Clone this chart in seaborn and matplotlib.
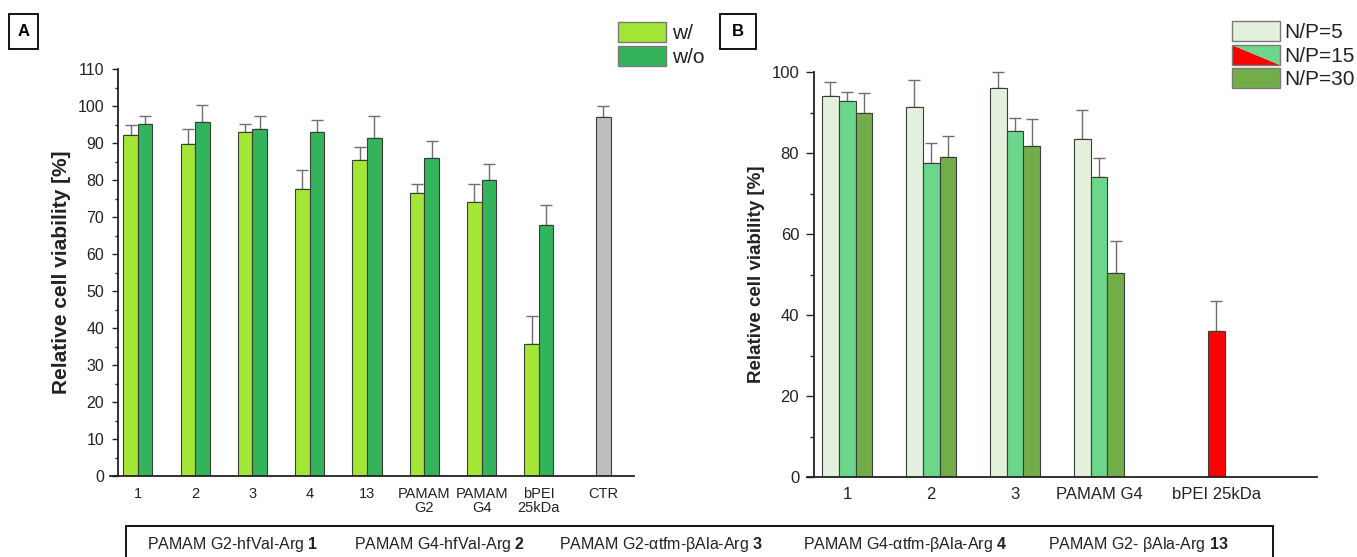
import numpy as np
import pandas as pd
import seaborn as sns
import matplotlib.pyplot as plt
from matplotlib.patches import Patch, Polygon, Rectangle
from matplotlib.legend_handler import HandlerBase

# ======================================================
# DATA
# ======================================================

# Panel A: viability with / without serum
cats_a = ["1", "2", "3", "4", "13", "PAMAM\nG2", "PAMAM\nG4", "bPEI\n25kDa"]
with_mean = [92.1, 89.7, 92.9, 77.6, 85.3, 76.5, 74.1, 35.7]
with_err = [2.8, 4.2, 2.3, 5.1, 3.6, 2.5, 4.7, 7.6]
without_mean = [95.1, 95.6, 93.8, 92.9, 91.4, 86.0, 80.1, 67.8]
without_err = [2.3, 4.8, 3.4, 3.2, 5.8, 4.5, 4.1, 5.5]
ctr_label = "CTR"
ctr_mean = 97.1
ctr_err = 2.8

# Panel B: viability at different N/P ratios
cats_b = ["1", "2", "3", "PAMAM G4", "bPEI 25kDa"]
np5_mean = [94.1, 91.4, 96.1, 83.5, np.nan]
np5_err = [3.4, 6.6, 3.9, 7.1, np.nan]
np15_mean = [92.9, 77.6, 85.4, 74.0, 36.0]
np15_err = [2.1, 4.8, 3.3, 4.7, 7.5]
np30_mean = [89.9, 79.1, 81.7, 50.3, np.nan]
np30_err = [5.0, 5.2, 6.6, 8.0, np.nan]

# Compound key under the panels
compound_names = ["PAMAM G2-hfVal-Arg", "PAMAM G4-hfVal-Arg",
                  "PAMAM G2-\u03b1tfm-\u03b2Ala-Arg", "PAMAM G4-\u03b1tfm-\u03b2Ala-Arg",
                  "PAMAM G2- \u03b2Ala-Arg"]
compound_ids = ["1", "2", "3", "4", "13"]

# ======================================================
# STYLE
# ======================================================
sns.set_theme(style="ticks")
plt.rcParams["font.family"] = ["Liberation Sans", "DejaVu Sans"]
plt.rcParams["mathtext.fontset"] = "custom"
plt.rcParams["mathtext.rm"] = "Liberation Sans"
plt.rcParams["mathtext.bf"] = "Liberation Sans:bold"

C_WITH, C_WITHOUT, C_CTR = "#A3E635", "#34B45A", "#BEBEBE"
C_NP5, C_NP15, C_NP30, C_RED = "#E3F0DC", "#6CD68A", "#72AD4A", "#FF0000"
EDGE = "#3c3c3c"
ERR = "#6e6e6e"
TXT = "#222222"

W, H = 1357, 557
fig = plt.figure(figsize=(W / 100, H / 100), dpi=100)


def px_rect(left, right, top, bottom):
    return [left / W, 1 - bottom / H, (right - left) / W, (bottom - top) / H]


def style_axis(ax, spine_x, ymax, major, minor, tick_len, ysize):
    ax.spines[["top", "right"]].set_visible(False)
    ax.spines["left"].set_position(("data", spine_x))
    for s in ("left", "bottom"):
        ax.spines[s].set_linewidth(1.3)
        ax.spines[s].set_color(TXT)
    ax.set_ylim(0, ymax)
    ax.set_yticks(np.arange(0, ymax + 0.1, major))
    ax.set_yticks(np.arange(0, ymax + 0.1, minor), minor=True)
    ax.tick_params(axis="y", which="major", length=tick_len, width=1, color=TXT,
                   labelsize=ysize, labelcolor=TXT, pad=5)
    ax.tick_params(axis="y", which="minor", length=tick_len * 0.55, width=1, color=TXT)
    ax.tick_params(axis="x", length=0, labelcolor=TXT)
    ax.set_xlabel("")


def add_errors(ax, df):
    ax.errorbar(df["pos"], df["val"], yerr=[np.zeros(len(df)), df["err"]],
                fmt="none", ecolor=ERR, elinewidth=1, capsize=4.5, capthick=1,
                zorder=1, clip_on=False)


# ======================================================
# PANEL A
# ======================================================
off_a = 0.127
rows = []
for i in range(len(cats_a)):
    rows.append({"pos": i - off_a, "val": with_mean[i], "err": with_err[i], "cond": "w/"})
    rows.append({"pos": i + off_a, "val": without_mean[i], "err": without_err[i], "cond": "w/o"})
ctr_pos = len(cats_a) + off_a
rows.append({"pos": ctr_pos, "val": ctr_mean, "err": ctr_err, "cond": ctr_label})
df_a = pd.DataFrame(rows)

ax_a = fig.add_axes(px_rect(110, 634, 69, 476))
sns.barplot(data=df_a, x="pos", y="val", hue="cond", hue_order=["w/", "w/o", ctr_label],
            palette={"w/": C_WITH, "w/o": C_WITHOUT, ctr_label: C_CTR}, saturation=1,
            native_scale=True, dodge=False, width=1.0, errorbar=None,
            edgecolor=EDGE, linewidth=0.8, legend=False, ax=ax_a, zorder=2)
add_errors(ax_a, df_a)
ax_a.set_xlim(-0.486, 8.66)
style_axis(ax_a, -0.355, 110, 10, 5, 4.5, 11.5)
ax_a.set_xticks(list(range(len(cats_a))) + [ctr_pos])
ax_a.set_xticklabels(cats_a + [ctr_label], fontsize=10.5, linespacing=1.0)
ax_a.tick_params(axis="x", pad=8)
ax_a.set_ylabel("Relative cell viability [%]", fontsize=15, fontweight="bold", color=TXT)
ax_a.yaxis.set_label_coords(-0.075, 0.5)

leg_a = ax_a.legend(handles=[Patch(facecolor=C_WITH, edgecolor="#7a7a7a", linewidth=1.0),
                             Patch(facecolor=C_WITHOUT, edgecolor="#7a7a7a", linewidth=1.0)],
                    labels=["w/", "w/o"], loc="upper left",
                    bbox_to_anchor=(618 / W, 1 - 22 / H), bbox_transform=fig.transFigure,
                    frameon=False, fontsize=15, handlelength=2.3, handleheight=1.1,
                    handletextpad=0.3, labelspacing=0.12, borderpad=0, borderaxespad=0)
for t in leg_a.get_texts():
    t.set_color(TXT)

# ======================================================
# PANEL B
# ======================================================
group_x_b = [0, 1, 2, 3, 4.4]
off_b = 0.2
rows = []
for i, gx in enumerate(group_x_b):
    for shift, means, errs, lab in [(-off_b, np5_mean, np5_err, "N/P=5"),
                                    (0.0, np15_mean, np15_err, "N/P=15"),
                                    (off_b, np30_mean, np30_err, "N/P=30")]:
        if np.isnan(means[i]):
            continue
        cond = lab
        if cats_b[i].startswith("bPEI"):
            cond = "bPEI"
        rows.append({"pos": gx + shift, "val": means[i], "err": errs[i], "cond": cond})
df_b = pd.DataFrame(rows)

ax_b = fig.add_axes(px_rect(807, 1317, 72, 477))
sns.barplot(data=df_b, x="pos", y="val", hue="cond",
            hue_order=["N/P=5", "N/P=15", "N/P=30", "bPEI"],
            palette={"N/P=5": C_NP5, "N/P=15": C_NP15, "N/P=30": C_NP30, "bPEI": C_RED},
            saturation=1, native_scale=True, dodge=False, width=1.0, errorbar=None,
            edgecolor=EDGE, linewidth=0.8, legend=False, ax=ax_b, zorder=2)
add_errors(ax_b, df_b)
ax_b.set_xlim(-0.48, 5.6)
style_axis(ax_b, -0.4, 100, 20, 10, 5.5, 12)
ax_b.set_xticks(group_x_b)
ax_b.set_xticklabels(cats_b, fontsize=12)
ax_b.tick_params(axis="x", pad=7)
ax_b.set_ylabel("Relative cell viability [%]", fontsize=13.5, fontweight="bold", color=TXT)
ax_b.yaxis.set_label_coords(-0.082, 0.5)


class SplitHandler(HandlerBase):
    # legend key half red / half green, as in the original
    def create_artists(self, legend, orig_handle, xdescent, ydescent, width, height,
                       fontsize, trans):
        x0, y0 = -xdescent, -ydescent
        red = Polygon([[x0, y0 + height], [x0, y0], [x0 + width, y0]], closed=True,
                      facecolor=C_RED, edgecolor="none", transform=trans)
        green = Polygon([[x0, y0 + height], [x0 + width, y0 + height], [x0 + width, y0]],
                        closed=True, facecolor=C_NP15, edgecolor="none", transform=trans)
        frame = Rectangle((x0, y0), width, height, facecolor="none", edgecolor="#7a7a7a",
                          linewidth=1.0, transform=trans)
        return [red, green, frame]


split_key = Patch(facecolor=C_NP15)
leg_b = ax_b.legend(handles=[Patch(facecolor=C_NP5, edgecolor="#7a7a7a", linewidth=1.0),
                             split_key,
                             Patch(facecolor=C_NP30, edgecolor="#7a7a7a", linewidth=1.0)],
                    labels=["N/P=5", "N/P=15", "N/P=30"], loc="upper left",
                    handler_map={split_key: SplitHandler()},
                    bbox_to_anchor=(1232 / W, 1 - 21 / H), bbox_transform=fig.transFigure,
                    frameon=False, fontsize=15, handlelength=2.3, handleheight=1.1,
                    handletextpad=0.2, labelspacing=0.12, borderpad=0, borderaxespad=0)
for t in leg_b.get_texts():
    t.set_color(TXT)

# ======================================================
# PANEL LETTERS AND COMPOUND KEY
# ======================================================
for letter, (l, r) in [("A", (9, 38)), ("B", (720, 756))]:
    fig.patches.append(Rectangle((l / W, 1 - 49 / H), (r - l) / W, 35 / H,
                                 transform=fig.transFigure, facecolor="white",
                                 edgecolor="black", linewidth=1.3))
    fig.text((l + r) / 2 / W, 1 - 31.5 / H, letter, ha="center", va="center",
             fontsize=12, fontweight="bold", color="black")

fig.patches.append(Rectangle((126 / W, -0.05), (1273 - 126) / W, 0.05 + 1 - 526 / H,
                             transform=fig.transFigure, facecolor="white",
                             edgecolor="black", linewidth=1.3))
key_x = [147, 354, 559, 803, 1048]
for x, name, cid in zip(key_x, compound_names, compound_ids):
    fig.text(x / W, 1 - 544 / H, name + r" $\mathbf{" + cid + "}$", ha="left", va="center",
             fontsize=11.5, color=TXT)

fig.savefig("out.png", dpi=100)
